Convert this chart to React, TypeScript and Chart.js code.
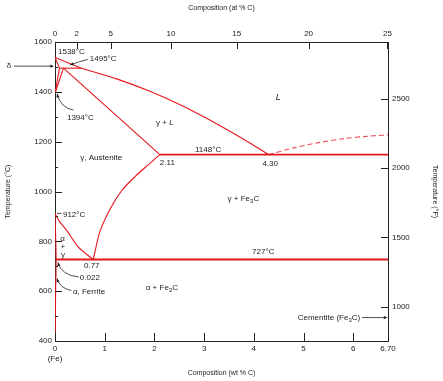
import React, { useEffect, useRef } from "react";
import { Chart, registerables } from "chart.js";
Chart.register(...registerables);

// ---- axis ticks ----
const wtTicks = [0, 1, 2, 3, 4, 5, 6, 6.7];
const wtTickLabels = ["0", "1", "2", "3", "4", "5", "6", "6.70"];
const atTicks = [0, 2, 5, 10, 15, 20, 25];
const tempCTicks = [400, 600, 800, 1000, 1200, 1400, 1600];
const tempCMinor = [500, 700, 900, 1100, 1300, 1500];
const tempFTicks = [1000, 1500, 2000, 2500];

// ---- phase boundaries (wt% C, °C) ----
const deltaLiqWt = [0, 0.53];
const deltaLiqT = [1538, 1495];
const liquidusWt = [0.53, 1.24, 1.91, 2.58, 3.25, 3.92, 4.3];
const liquidusT = [1495, 1452, 1402, 1342, 1272, 1195, 1148];
const deltaSolidusWt = [0, 0.09];
const deltaSolidusT = [1538, 1495];
const deltaSolvusWt = [0, 0.09];
const deltaSolvusT = [1394, 1495];
const gammaDeltaWt = [0, 0.17];
const gammaDeltaT = [1394, 1495];
const peritecticWt = [0.09, 0.53];
const peritecticT = [1495, 1495];
const austSolidusWt = [0.17, 2.11];
const austSolidusT = [1495, 1148];
const eutecticWt = [2.11, 6.7];
const eutecticT = [1148, 1148];
const acmWt = [0.77, 0.905, 1.11, 1.34, 1.61, 1.88, 2.11];
const acmT = [727, 840, 930, 1003, 1060, 1108, 1148];
const a3Wt = [0, 0.1, 0.235, 0.47, 0.77];
const a3T = [912, 877, 844, 777, 727];
const alphaSolvusWt = [0, 0.022, 0.012, 0.005, 0];
const alphaSolvusT = [912, 727, 600, 450, 400];
const eutectoidWt = [0.022, 6.7];
const eutectoidT = [727, 727];
const cementiteLiqWt = [4.3, 4.8, 5.3, 5.8, 6.3, 6.7];
const cementiteLiqT = [1148, 1175, 1196, 1212, 1222, 1227];

const RED = "#e4151d";
const INK = "#222";
const FONT = '"Liberation Sans", Arial, sans-serif';

const atToWt = (a: number) => ((a * 12.011) / (a * 12.011 + (100 - a) * 55.845)) * 100;
const fToC = (f: number) => ((f - 32) * 5) / 9;
const pts = (wt: number[], t: number[]) => wt.map((x, i) => ({ x, y: t[i] }));

type Seg = { t: string; italic?: boolean; sub?: boolean };

function drawSegs(ctx: CanvasRenderingContext2D, segs: Seg[], x: number, y: number, align: string, size = 8) {
  const fontFor = (s: Seg) => `${s.italic ? "italic " : ""}${s.sub ? size - 2 : size}px ${FONT}`;
  let total = 0;
  segs.forEach((s) => {
    ctx.font = fontFor(s);
    total += ctx.measureText(s.t).width;
  });
  let cx = align === "center" ? x - total / 2 : align === "right" ? x - total : x;
  ctx.textAlign = "left";
  ctx.textBaseline = "middle";
  segs.forEach((s) => {
    ctx.font = fontFor(s);
    ctx.fillText(s.t, cx, s.sub ? y + 2.5 : y);
    cx += ctx.measureText(s.t).width;
  });
}

function arrowHead(ctx: CanvasRenderingContext2D, x: number, y: number, fx: number, fy: number) {
  const ang = Math.atan2(y - fy, x - fx);
  const L = 4;
  ctx.beginPath();
  ctx.moveTo(x, y);
  ctx.lineTo(x - L * Math.cos(ang - 0.4), y - L * Math.sin(ang - 0.4));
  ctx.lineTo(x - L * Math.cos(ang + 0.4), y - L * Math.sin(ang + 0.4));
  ctx.closePath();
  ctx.fill();
}

const decorPlugin = {
  id: "decor",
  afterDraw(chart: any) {
    const ctx: CanvasRenderingContext2D = chart.ctx;
    const { left, right, top, bottom } = chart.chartArea;
    const sx = chart.scales.x;
    const sy = chart.scales.y;
    const px = (v: number) => sx.getPixelForValue(v);
    const py = (v: number) => sy.getPixelForValue(v);
    ctx.save();
    ctx.strokeStyle = INK;
    ctx.fillStyle = INK;
    ctx.lineWidth = 1;
    const line = (x1: number, y1: number, x2: number, y2: number) => {
      ctx.beginPath();
      ctx.moveTo(x1, y1);
      ctx.lineTo(x2, y2);
      ctx.stroke();
    };
    // inward ticks
    tempCTicks.forEach((t) => {
      const y = Math.round(py(t)) + 0.5;
      line(left, y, left + 7, y);
    });
    tempCMinor.forEach((t) => {
      const y = Math.round(py(t)) + 0.5;
      line(left, y, left + 3, y);
    });
    tempFTicks.forEach((f) => {
      const y = Math.round(py(fToC(f))) + 0.5;
      line(right - 7, y, right, y);
    });
    atTicks.forEach((a) => {
      const x = Math.round(px(atToWt(a))) + 0.5;
      line(x, top, x, top + 7);
    });
    wtTicks.forEach((w) => {
      const x = Math.round(px(w)) + 0.5;
      line(x, bottom - 8, x, bottom);
    });

    // leaders
    const curve = (a: number[], c: number[], b: number[], head = true) => {
      ctx.beginPath();
      ctx.moveTo(px(a[0]), py(a[1]));
      ctx.quadraticCurveTo(px(c[0]), py(c[1]), px(b[0]), py(b[1]));
      ctx.stroke();
      if (head) arrowHead(ctx, px(a[0]), py(a[1]), px(c[0]), py(c[1]));
    };
    ctx.lineWidth = 0.8;
    curve([0.3, 1508], [0.5, 1522], [0.66, 1530]); // 1495
    curve([0.04, 1392], [0.12, 1335], [0.37, 1327]); // 1394
    curve([0.04, 912], [0.08, 912], [0.13, 912], false); // 912
    curve([0.06, 716], [0.12, 664], [0.48, 657]); // 0.022
    curve([0.04, 651], [0.1, 611], [0.33, 603]); // ferrite
    // delta arrow
    line(left - 41, py(1503), left - 3, py(1503));
    arrowHead(ctx, left - 1, py(1503), left - 10, py(1503));
    // cementite arrow
    line(px(6.18), py(494), px(6.64), py(494));
    arrowHead(ctx, px(6.69), py(494), px(6.5), py(494));

    // labels
    ctx.fillStyle = INK;
    const lab = (segs: Seg[], w: number, t: number, align = "center", size = 8) =>
      drawSegs(ctx, segs, px(w), py(t), align, size);
    lab([{ t: "1538°C" }], 0.06, 1560, "left");
    lab([{ t: "1495°C" }], 0.7, 1532, "left");
    lab([{ t: "1394°C" }], 0.24, 1294, "left");
    lab([{ t: "L", italic: true }], 4.49, 1379, "center", 9);
    lab([{ t: "γ + " }, { t: "L", italic: true }], 2.21, 1276);
    lab([{ t: "γ, Austenite" }], 0.93, 1136);
    lab([{ t: "1148°C" }], 3.08, 1169);
    lab([{ t: "2.11" }], 2.11, 1117, "left");
    lab([{ t: "4.30" }], 4.33, 1113);
    lab([{ t: "γ + Fe" }, { t: "3", sub: true }, { t: "C" }], 3.79, 971);
    lab([{ t: "912°C" }], 0.16, 908, "left");
    lab([{ t: "α" }], 0.15, 812);
    lab([{ t: "+" }], 0.16, 780);
    lab([{ t: "γ" }], 0.16, 744);
    lab([{ t: "0.77" }], 0.74, 703);
    lab([{ t: "0.022" }], 0.5, 655, "left");
    lab([{ t: "α, Ferrite" }], 0.36, 599, "left");
    lab([{ t: "727°C" }], 4.19, 756);
    lab([{ t: "α + Fe" }, { t: "3", sub: true }, { t: "C" }], 2.15, 615);
    lab([{ t: "Cementite (Fe" }, { t: "3", sub: true }, { t: "C)" }], 6.14, 494, "right");
    drawSegs(ctx, [{ t: "δ" }], left - 46, py(1503), "center", 8);
    drawSegs(ctx, [{ t: "(Fe)" }], px(0), bottom + 18, "center", 8);
    ctx.restore();
  },
};

export default function App() {
  const ref = useRef<HTMLCanvasElement | null>(null);
  useEffect(() => {
    if (!ref.current) return;
    const mk = (wt: number[], t: number[], opts: any = {}) => ({
      data: pts(wt, t),
      showLine: true,
      pointRadius: 0,
      borderColor: RED,
      borderWidth: 1.1,
      tension: 0,
      fill: false,
      ...opts,
    });
    const tickFont = { family: FONT, size: 8 };
    const titleFont = { family: FONT, size: 7 };
    const chart = new Chart(ref.current, {
      type: "scatter",
      data: {
        datasets: [
          mk(deltaLiqWt, deltaLiqT),
          mk(liquidusWt, liquidusT, { tension: 0.3 }),
          mk(deltaSolidusWt, deltaSolidusT),
          mk(deltaSolvusWt, deltaSolvusT),
          mk(gammaDeltaWt, gammaDeltaT),
          mk(peritecticWt, peritecticT),
          mk(austSolidusWt, austSolidusT),
          mk(eutecticWt, eutecticT, { borderWidth: 1.8 }),
          mk(acmWt, acmT, { tension: 0.3 }),
          mk(a3Wt, a3T, { tension: 0.3 }),
          mk(alphaSolvusWt, alphaSolvusT, { tension: 0.3 }),
          mk(eutectoidWt, eutectoidT, { borderWidth: 1.8 }),
          mk(cementiteLiqWt, cementiteLiqT, { tension: 0.3, borderDash: [5, 3], borderColor: "#ef4a5a" }),
        ] as any,
      },
      options: {
        responsive: true,
        maintainAspectRatio: false,
        animation: false,
        layout: { padding: 0 },
        plugins: { legend: { display: false }, tooltip: { enabled: false } },
        scales: {
          x: {
            type: "linear",
            position: "bottom",
            min: 0,
            max: 6.7,
            afterBuildTicks: (s: any) => {
              s.ticks = wtTicks.map((v) => ({ value: v }));
            },
            afterFit: (s: any) => {
              s.height = 40;
            },
            ticks: {
              autoSkip: false,
              maxRotation: 0,
              padding: 3,
              color: INK,
              font: tickFont,
              callback: (_v: any, i: number) => wtTickLabels[i],
            },
            grid: { display: false, drawTicks: false },
            border: { display: true, color: INK, width: 1 },
            title: { display: true, text: "Composition (wt % C)", color: INK, font: titleFont, padding: { top: 4, bottom: 4 } },
          },
          xTop: {
            type: "linear",
            position: "top",
            min: 0,
            max: 6.7,
            afterBuildTicks: (s: any) => {
              s.ticks = atTicks.map((a) => ({ value: atToWt(a) }));
            },
            afterFit: (s: any) => {
              s.height = 42;
            },
            ticks: {
              autoSkip: false,
              maxRotation: 0,
              padding: 3,
              color: INK,
              font: tickFont,
              callback: (_v: any, i: number) => String(atTicks[i]),
            },
            grid: { display: false, drawTicks: false },
            border: { display: true, color: INK, width: 1 },
            title: { display: true, text: "Composition (at % C)", color: INK, font: titleFont, padding: { top: 4, bottom: 4 } },
          },
          y: {
            type: "linear",
            position: "left",
            min: 400,
            max: 1600,
            afterBuildTicks: (s: any) => {
              s.ticks = tempCTicks.map((v) => ({ value: v }));
            },
            afterFit: (s: any) => {
              s.width = 55;
            },
            ticks: {
              autoSkip: false,
              padding: 3,
              color: INK,
              font: tickFont,
              callback: (_v: any, i: number) => String(tempCTicks[i]),
            },
            grid: { display: false, drawTicks: false },
            border: { display: true, color: "#1d2b1d", width: 1 },
            title: { display: true, text: "Temperature (°C)", color: INK, font: titleFont, padding: { top: 4, bottom: 4 } },
          },
          y2: {
            type: "linear",
            position: "right",
            min: 400,
            max: 1600,
            afterBuildTicks: (s: any) => {
              s.ticks = tempFTicks.map((f) => ({ value: fToC(f) }));
            },
            afterFit: (s: any) => {
              s.width = 55;
            },
            ticks: {
              autoSkip: false,
              padding: 4,
              color: INK,
              font: tickFont,
              callback: (_v: any, i: number) => String(tempFTicks[i]),
            },
            grid: { display: false, drawTicks: false },
            border: { display: true, color: INK, width: 1 },
            title: { display: true, text: "Temperature (°F)", color: INK, font: titleFont, padding: { top: 4, bottom: 4 } },
          },
        },
      } as any,
      plugins: [decorPlugin],
    });
    return () => chart.destroy();
  }, []);
  return (
    <div style={{ position: "absolute", left: 0, top: 0, width: 443, height: 381, background: "#fff" }}>
      <canvas ref={ref} />
    </div>
  );
}
